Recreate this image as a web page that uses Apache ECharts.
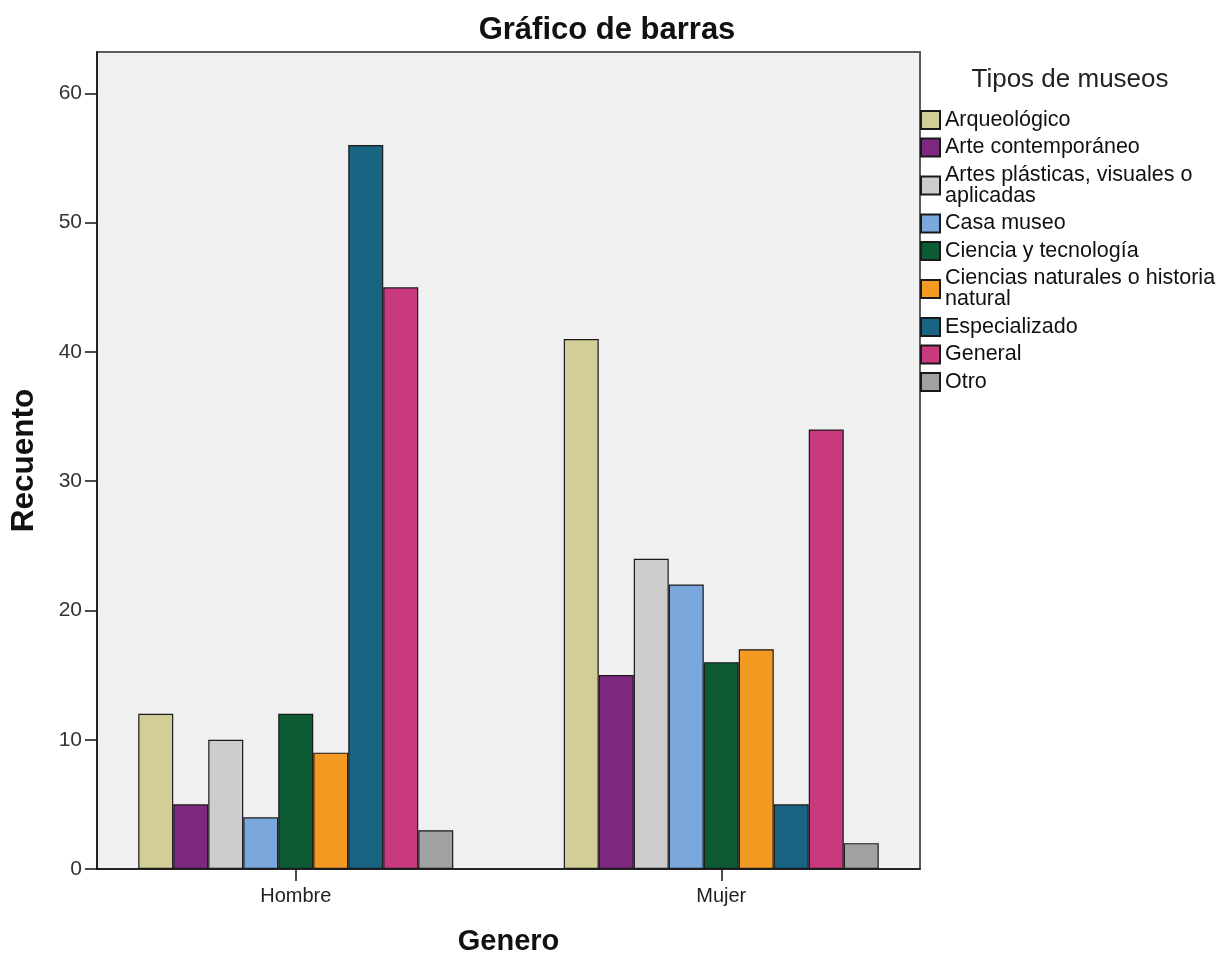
<!DOCTYPE html>
<html>
<head>
<meta charset="utf-8">
<title>Gráfico de barras</title>
<script src="https://cdn.jsdelivr.net/npm/echarts@6/dist/echarts.min.js"></script>
<style>
  html, body { margin: 0; padding: 0; background: #ffffff; }
  #chart { width: 1229px; height: 956px; }
</style>
</head>
<body>
<div id="chart"></div>
<script>
// Group categories on the x axis
const categories = ['Hombre', 'Mujer'];

// Museum types (one series each) and their legend labels
const museumTypes = [
  'Arqueológico',
  'Arte contemporáneo',
  'Artes plásticas, visuales o aplicadas',
  'Casa museo',
  'Ciencia y tecnología',
  'Ciencias naturales o historia natural',
  'Especializado',
  'General',
  'Otro'
];
const legendLabels = [
  'Arqueológico',
  'Arte contemporáneo',
  'Artes plásticas, visuales o\naplicadas',
  'Casa museo',
  'Ciencia y tecnología',
  'Ciencias naturales o historia\nnatural',
  'Especializado',
  'General',
  'Otro'
];

// Counts per type: [Hombre, Mujer]
const arqueologico = [12, 41];
const arteContemporaneo = [5, 15];
const artesPlasticas = [10, 24];
const casaMuseo = [4, 22];
const cienciaTecnologia = [12, 16];
const cienciasNaturales = [9, 17];
const especializado = [56, 5];
const general = [45, 34];
const otro = [3, 2];

const seriesValues = [
  arqueologico, arteContemporaneo, artesPlasticas, casaMuseo,
  cienciaTecnologia, cienciasNaturales, especializado, general, otro
];

const colors = [
  '#d3ce97', '#7e287f', '#cdcdcd', '#7aa7dc', '#0d5b33',
  '#f39a23', '#196482', '#c8397d', '#a1a1a1'
];

// Y axis tick labels
const yTicks = [0, 10, 20, 30, 40, 50, 60];
const yMax = 63.2;

const FONT = "Arial, 'Liberation Sans', sans-serif";

const labelMap = {};
museumTypes.forEach((n, i) => { labelMap[n] = legendLabels[i]; });

const chart = echarts.init(document.getElementById('chart'), null, { renderer: 'canvas' });

const option = {
  animation: false,
  backgroundColor: '#ffffff',
  title: [
    {
      text: 'Gráfico de barras',
      left: 602,
      top: 10,
      textAlign: 'center',
      textStyle: { fontFamily: FONT, fontSize: 31, fontWeight: 'bold', color: '#111' }
    },
    {
      text: 'Tipos de museos',
      left: 1065,
      top: 62,
      textAlign: 'center',
      textStyle: { fontFamily: FONT, fontSize: 26, fontWeight: 'normal', color: '#222' }
    }
  ],
  legend: {
    orient: 'vertical',
    left: 915,
    top: 104,
    itemWidth: 19,
    itemHeight: 18,
    itemGap: 5.5,
    icon: 'rect',
    selectedMode: false,
    data: museumTypes,
    formatter: name => labelMap[name],
    textStyle: { fontFamily: FONT, fontSize: 21.5, color: '#111', lineHeight: 21 }
  },
  grid: [
    // plot frame with background and the value axis
    {
      left: 97, top: 52, width: 823, height: 817,
      show: true, backgroundColor: '#f0f0f0',
      borderColor: '#5c5c5c', borderWidth: 2,
      containLabel: false, outerBoundsMode: 'none'
    },
    // bar area, wider so the groups sit at their positions
    {
      left: 83, top: 52, width: 851, height: 817,
      containLabel: false, outerBoundsMode: 'none'
    }
  ],
  xAxis: [
    {
      gridIndex: 0, type: 'value', min: 0, max: 1,
      axisLine: { show: true, lineStyle: { color: '#111', width: 1.5 } },
      axisTick: { show: false }, axisLabel: { show: false }, splitLine: { show: false }
    },
    {
      gridIndex: 1, type: 'category', data: categories,
      axisLine: { show: false },
      axisTick: { show: true, alignWithLabel: true, length: 12, lineStyle: { color: '#111', width: 1.5 } },
      axisLabel: { fontFamily: FONT, fontSize: 20, color: '#222', margin: 17 },
      name: 'Genero',
      nameLocation: 'middle',
      nameGap: 58,
      nameTextStyle: { fontFamily: FONT, fontSize: 29, fontWeight: 'bold', color: '#111' }
    }
  ],
  yAxis: [
    {
      gridIndex: 0, type: 'value', min: 0, max: yMax,
      axisLine: { show: true, lineStyle: { color: '#111', width: 1.5 } },
      axisTick: { show: true, length: 12, customValues: yTicks, lineStyle: { color: '#111', width: 1.5 } },
      axisLabel: { customValues: yTicks, fontFamily: FONT, fontSize: 21, color: '#333', margin: 15 },
      splitLine: { show: false },
      name: 'Recuento',
      nameLocation: 'middle',
      nameGap: 57,
      nameTextStyle: { fontFamily: FONT, fontSize: 31.5, fontWeight: 'bold', color: '#111' }
    },
    {
      gridIndex: 1, type: 'value', min: 0, max: yMax, show: false
    }
  ],
  series: museumTypes.map((name, i) => ({
    name: name,
    type: 'bar',
    xAxisIndex: 1,
    yAxisIndex: 1,
    barWidth: 35,
    barGap: '0%',
    data: seriesValues[i],
    itemStyle: { color: colors[i], borderColor: '#1a1a1a', borderWidth: 1.2 }
  }))
};

chart.setOption(option);
</script>
</body>
</html>
